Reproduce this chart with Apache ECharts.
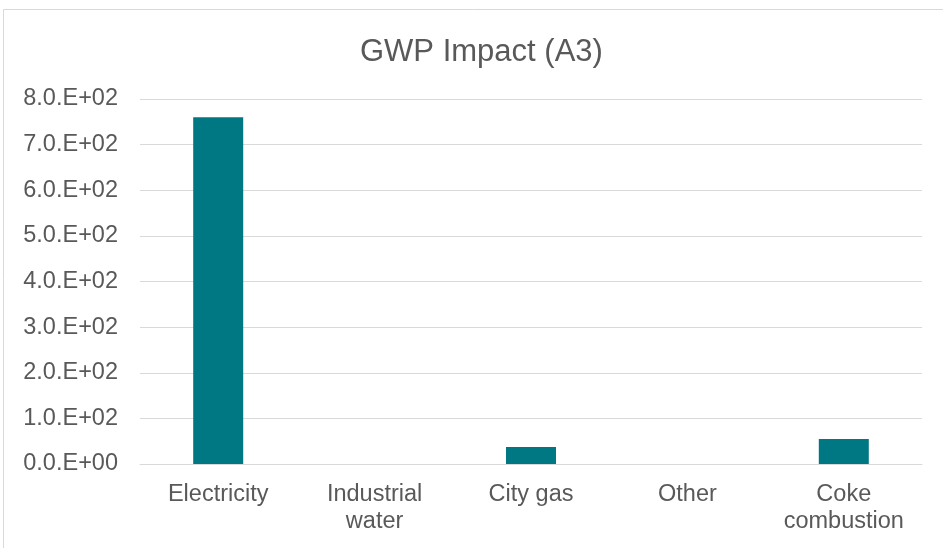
<!DOCTYPE html>
<html><head><meta charset="utf-8">
<script src="https://cdn.jsdelivr.net/npm/echarts@6/dist/echarts.min.js"></script>
<style>html,body{margin:0;padding:0;background:#fff}#c{width:943px;height:548px}</style>
</head><body><div id="c"></div>
<script>
const categories = ["Electricity", "Industrial\nwater", "City gas", "Other", "Coke\ncombustion"];
const values = [760, 0, 37, 0, 55];
const titleText = "GWP Impact (A3)";

function sci(v){
  if (v === 0) return "0.0.E+00";
  const e = Math.floor(Math.log10(Math.abs(v)));
  const m = v / Math.pow(10, e);
  return m.toFixed(1) + ".E" + (e >= 0 ? "+" : "-") + String(Math.abs(e)).padStart(2, "0");
}

const chart = echarts.init(document.getElementById('c'), null, {renderer: 'canvas'});
chart.setOption({
  animation: false,
  backgroundColor: '#fff',
  graphic: [{type: 'rect', shape: {x: 3.5, y: 9.5, width: 1000, height: 600}, style: {fill: 'none', stroke: '#d9d9d9', lineWidth: 1}, silent: true}],
  title: {text: titleText, left: 355, top: 32, textStyle: {fontFamily: 'Liberation Sans, Arial', fontSize: 31, fontWeight: 'normal', color: '#595959'}},
  grid: {left: 140, right: 21, top: 99, bottom: 84, containLabel: false},
  xAxis: {type: 'category', data: categories,
    axisLine: {show: true, lineStyle: {color: '#d9d9d9', width: 1}},
    axisTick: {show: false},
    axisLabel: {fontFamily: 'Liberation Sans, Arial', fontSize: 23.5, color: '#595959', margin: 17, lineHeight: 27, interval: 0}},
  yAxis: {type: 'value', min: 0, max: 800, interval: 100,
    axisLine: {show: false}, axisTick: {show: false},
    splitLine: {lineStyle: {color: '#d9d9d9', width: 1}},
    axisLabel: {fontFamily: 'Liberation Sans, Arial', fontSize: 23.5, color: '#595959', margin: 22, formatter: sci}},
  series: [{type: 'bar', data: values, barWidth: 50, itemStyle: {color: '#007884'}}]
});
</script></body></html>
